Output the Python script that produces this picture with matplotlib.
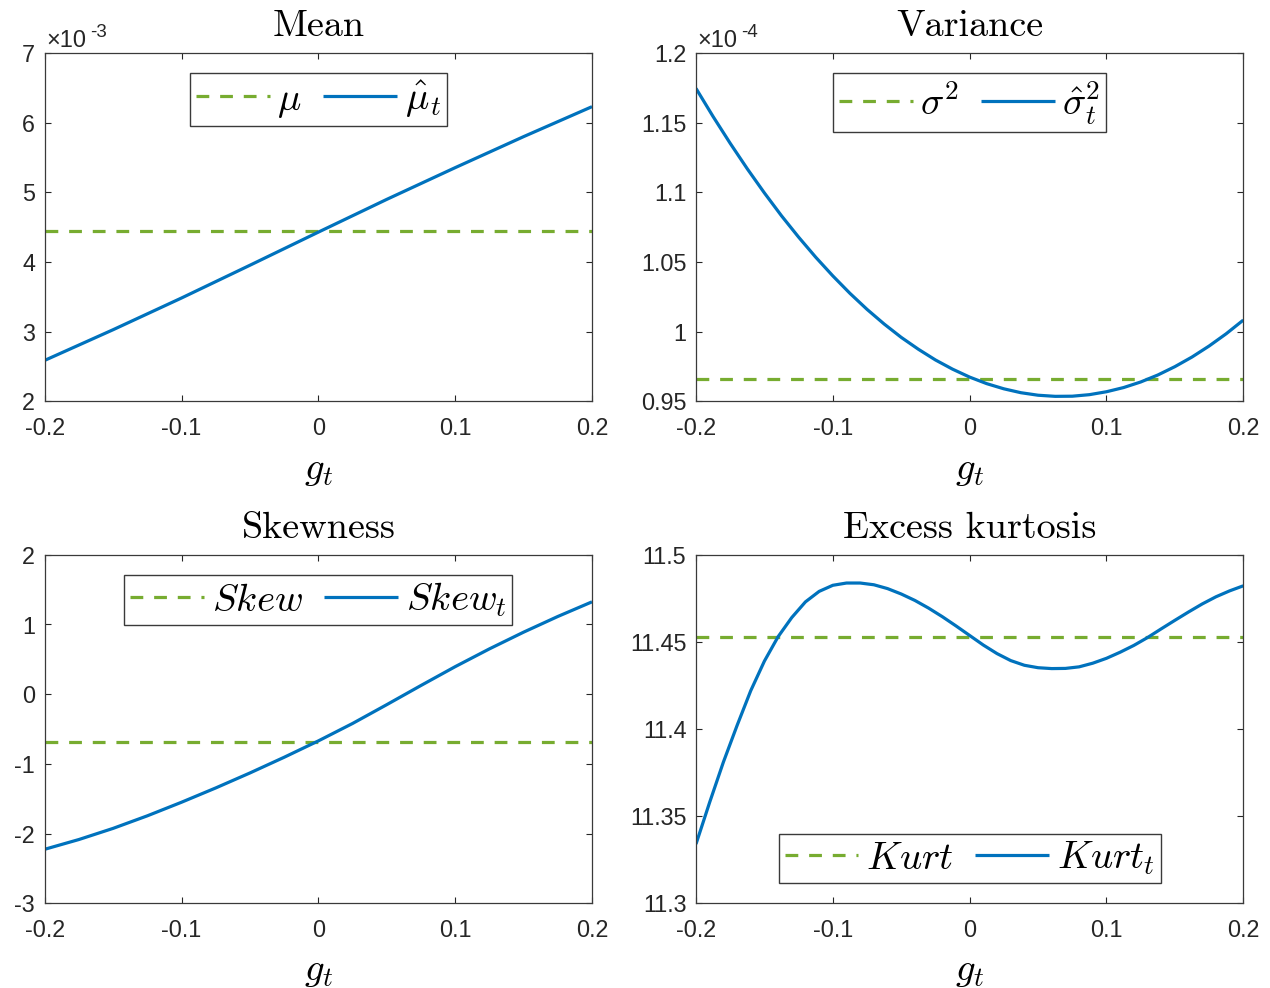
import numpy as np
import matplotlib
matplotlib.use('Agg')
import matplotlib.pyplot as plt
from matplotlib.ticker import FixedLocator, FuncFormatter

plt.rcParams['font.family'] = ['Liberation Sans', 'DejaVu Sans']
plt.rcParams['mathtext.fontset'] = 'cm'
plt.rcParams['axes.unicode_minus'] = False

# ---------------- data ----------------
x_ticks = [-0.2, -0.1, 0.0, 0.1, 0.2]

# Mean (values in units of 1e-3)
g_mean = [-0.2, -0.15, -0.1, -0.05, 0.0, 0.05, 0.1, 0.15, 0.2]
mean_hat = [2.59, 3.03, 3.485, 3.955, 4.43, 4.90, 5.355, 5.80, 6.23]
mean_const = 4.44
mean_yticks = [2, 3, 4, 5, 6, 7]

# Variance (values in units of 1e-4)
g_var = [-0.2, -0.1875, -0.175, -0.1625, -0.15, -0.1375, -0.125, -0.1125,
         -0.1, -0.0875, -0.075, -0.0625, -0.05, -0.0375, -0.025, -0.0125,
         0.0, 0.0125, 0.025, 0.0375, 0.05, 0.0625, 0.075, 0.0875,
         0.1, 0.1125, 0.125, 0.1375, 0.15, 0.1625, 0.175, 0.1875, 0.2]
var_hat = [1.1746, 1.1544, 1.1352, 1.1169, 1.0996, 1.0832, 1.0679, 1.0535,
           1.0401, 1.0276, 1.0161, 1.0056, 0.9960, 0.9875, 0.9798, 0.9732,
           0.9675, 0.9628, 0.9591, 0.9563, 0.9545, 0.9537, 0.9538, 0.9549,
           0.9570, 0.9600, 0.9640, 0.9690, 0.9750, 0.9819, 0.9898, 0.9986, 1.0084]
var_const = 0.9664
var_yticks = [0.95, 1.0, 1.05, 1.1, 1.15, 1.2]

# Skewness
g_skew = [-0.2, -0.175, -0.15, -0.125, -0.1, -0.075, -0.05, -0.025, 0.0,
          0.025, 0.05, 0.075, 0.1, 0.125, 0.15, 0.175, 0.2]
skew_hat = [-2.225, -2.085, -1.925, -1.745, -1.55, -1.345, -1.13, -0.905, -0.67,
            -0.42, -0.15, 0.125, 0.395, 0.65, 0.89, 1.115, 1.325]
skew_const = -0.679
skew_yticks = [-3, -2, -1, 0, 1, 2]

# Excess kurtosis
g_kurt = [-0.2, -0.19, -0.18, -0.17, -0.16, -0.15, -0.14, -0.13, -0.12, -0.11,
          -0.10, -0.09, -0.08, -0.07, -0.06, -0.05, -0.04, -0.03, -0.02, -0.01,
          0.0, 0.01, 0.02, 0.03, 0.04, 0.05, 0.06, 0.07, 0.08, 0.09,
          0.10, 0.11, 0.12, 0.13, 0.14, 0.15, 0.16, 0.17, 0.18, 0.19, 0.2]
kurt_hat = [11.334, 11.358, 11.381, 11.402, 11.422, 11.439, 11.453, 11.464, 11.473, 11.479,
            11.4825, 11.4838, 11.4838, 11.4828, 11.4806, 11.4775, 11.4738, 11.4694, 11.4645, 11.4592,
            11.4537, 11.4482, 11.4433, 11.4393, 11.4366, 11.4352, 11.4347, 11.4348, 11.4357, 11.4378,
            11.4406, 11.4441, 11.4480, 11.4525, 11.4575, 11.4624, 11.4672, 11.4718, 11.4759, 11.4793, 11.4822]
kurt_const = 11.4526
kurt_yticks = [11.3, 11.35, 11.4, 11.45, 11.5]

panels = [
    dict(title='Mean', g=g_mean, y=mean_hat, c=mean_const, yt=mean_yticks,
         labs=[r'$\mu$', r'$\hat{\mu}_t$'], exp='-3', loc='upper'),
    dict(title='Variance', g=g_var, y=var_hat, c=var_const, yt=var_yticks,
         labs=[r'$\sigma^2$', r'$\hat{\sigma}_t^2$'], exp='-4', loc='upper'),
    dict(title='Skewness', g=g_skew, y=skew_hat, c=skew_const, yt=skew_yticks,
         labs=[r'$Skew$', r'$Skew_t$'], exp=None, loc='upper'),
    dict(title='Excess kurtosis', g=g_kurt, y=kurt_hat, c=kurt_const, yt=kurt_yticks,
         labs=[r'$Kurt$', r'$Kurt_t$'], exp=None, loc='lower'),
]

BLUE = '#0072BD'
GREEN = '#77AC30'
DARK = '#262626'

W, H = 1270, 988
fig = plt.figure(figsize=(W / 100, H / 100), dpi=100)

ax_w = 547.3 / W
ax_h = 348.5 / H
lefts = [44.7 / W, 696.0 / W]
bottoms = [1 - 401.5 / H, 1 - 903.3 / H]
rects = [(lefts[0], bottoms[0]), (lefts[1], bottoms[0]),
         (lefts[0], bottoms[1]), (lefts[1], bottoms[1])]

fmt = FuncFormatter(lambda v, p: f'{round(v, 6):g}')

for p, (l, b) in zip(panels, rects):
    ax = fig.add_axes([l, b, ax_w, ax_h])
    h1, = ax.plot([p['g'][0], p['g'][-1]], [p['c'], p['c']], color=GREEN, lw=2.3,
                  ls=(0, (4, 3.4)))
    h2, = ax.plot(p['g'], p['y'], color=BLUE, lw=2.3, solid_capstyle='butt',
                  solid_joinstyle='round')
    ax.set_xlim(-0.2, 0.2)
    ax.set_ylim(p['yt'][0], p['yt'][-1])
    ax.xaxis.set_major_locator(FixedLocator(x_ticks))
    ax.yaxis.set_major_locator(FixedLocator(p['yt']))
    ax.xaxis.set_major_formatter(fmt)
    ax.yaxis.set_major_formatter(fmt)
    ax.tick_params(direction='in', length=4, width=0.8, top=True, right=True,
                   labelsize=16.8, colors=DARK)
    ax.tick_params(axis='x', pad=11.5)
    ax.tick_params(axis='y', pad=7)
    for s in ax.spines.values():
        s.set_color('#3a3a3a')
        s.set_linewidth(0.9)
    ax.set_title(p['title'], fontfamily='cmr10', fontsize=27.5, pad=12, color='black')
    ax.set_xlabel(r'$g_t$', fontsize=28, labelpad=8, color='black')
    if p['exp']:
        ax.annotate('×10', xy=(0, 1), xycoords='axes fraction', xytext=(1.2, 4.5),
                    textcoords='offset points', ha='left', va='baseline',
                    fontsize=17, color=DARK)
        ax.annotate(p['exp'], xy=(0, 1), xycoords='axes fraction', xytext=(32.8, 11.3),
                    textcoords='offset points', ha='left', va='baseline',
                    fontsize=13.5, color=DARK)
    if p['loc'] == 'upper':
        lk = dict(loc='upper center', bbox_to_anchor=(0.5, 1 - 20 / 348.5))
    else:
        lk = dict(loc='lower center', bbox_to_anchor=(0.5, 20 / 348.5))
    leg = ax.legend([h1, h2], p['labs'], ncol=2, fontsize=28, frameon=True,
                    fancybox=False, edgecolor='#3a3a3a', framealpha=1,
                    borderpad=0.15, handlelength=1.9, handletextpad=0.2,
                    columnspacing=0.55, borderaxespad=0, **lk)
    leg.get_frame().set_linewidth(1.0)

fig.savefig('out.png', dpi=100)
